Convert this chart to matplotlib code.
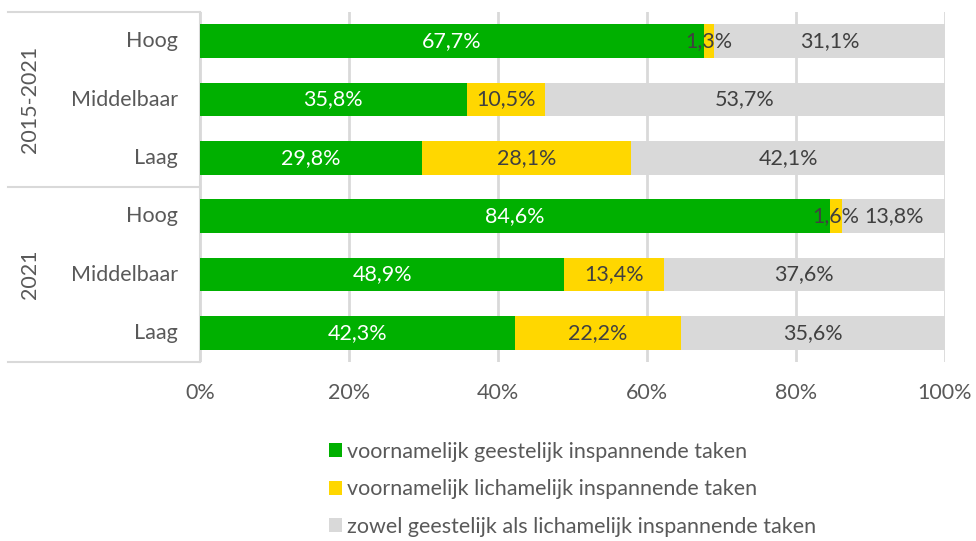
import matplotlib
matplotlib.use("Agg")
import matplotlib.pyplot as plt
import numpy as np

plt.rcParams['font.family'] = ['Lato', 'DejaVu Sans']

groups = ["2015-2021", "2021"]
categories = ["Hoog", "Middelbaar", "Laag", "Hoog", "Middelbaar", "Laag"]
geestelijk = [67.7, 35.8, 29.8, 84.6, 48.9, 42.3]
lichamelijk = [1.3, 10.5, 28.1, 1.6, 13.4, 22.2]
beide = [31.1, 53.7, 42.1, 13.8, 37.6, 35.6]
series_names = ["voornamelijk geestelijk inspannende taken",
                "voornamelijk lichamelijk inspannende taken",
                "zowel geestelijk als lichamelijk inspannende taken"]
colors = ["#00B000", "#FFD700", "#D9D9D9"]
text_colors = ["white", "#404040", "#404040"]
xticks = [0, 20, 40, 60, 80, 100]

FS = 15.5

fig = plt.figure(figsize=(9.76, 5.41), dpi=100)
ax = fig.add_axes([200/976, 1-362/541, 745/976, 350/541])

n = len(categories)
y = np.arange(n)
left = np.zeros(n)
for vals, col, tc, name in zip([geestelijk, lichamelijk, beide], colors, text_colors, series_names):
    vals = np.array(vals)
    ax.barh(y, vals, left=left, height=0.58, color=col, label=name, zorder=3)
    for yi, l, v in zip(y, left, vals):
        ax.text(l + v/2, yi, f"{v:.1f}%".replace(".", ","), ha="center", va="center",
                color=tc, fontsize=FS, zorder=4)
    left = left + vals

ax.set_xlim(0, 100)
ax.set_ylim(n - 0.5, -0.5)
ax.set_yticks([])
ax.set_xticks(xticks)
ax.set_xticklabels([f"{t}%" for t in xticks], fontsize=FS, color="#595959")
ax.tick_params(axis="x", length=0, pad=15)
ax.xaxis.grid(True, color="#D9D9D9", linewidth=2, zorder=0)
for s in ["top", "right", "bottom"]:
    ax.spines[s].set_visible(False)
ax.spines["left"].set_color("#D9D9D9")
ax.spines["left"].set_linewidth(1.5)

# category labels
for yi, c in zip(y, categories):
    ax.text(-0.03, yi, c, transform=ax.get_yaxis_transform(), ha="right", va="center",
            fontsize=FS, color="#595959")

# group separators and labels
xl = -0.258
for yb in [-0.5, 2.5, 5.5]:
    ax.plot([xl, 0], [yb, yb], transform=ax.get_yaxis_transform(), color="#D9D9D9",
            linewidth=1.5, clip_on=False)
for gi, g in enumerate(groups):
    ax.text(-0.228, gi*3 + 1, g, transform=ax.get_yaxis_transform(), ha="center", va="center",
            rotation=90, fontsize=FS, color="#595959")

leg = fig.legend(loc="upper left", bbox_to_anchor=(320/976, 1-433/541), frameon=False,
                 fontsize=FS, handlelength=0.6, handleheight=0.6, handletextpad=0.25,
                 labelspacing=0.82, borderaxespad=0)
for t in leg.get_texts():
    t.set_color("#595959")

fig.savefig("out.png", dpi=100)
